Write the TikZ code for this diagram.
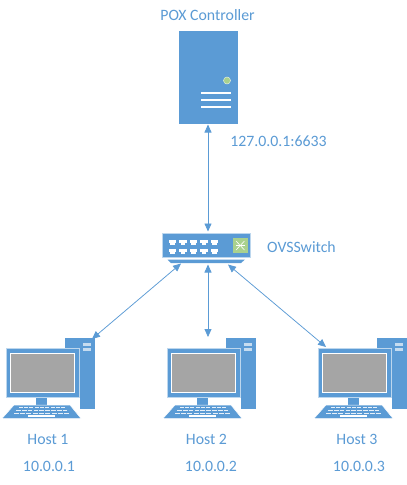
\documentclass[tikz,border=0pt]{standalone}
\usepackage{fontspec}
\setmainfont{Carlito}
\definecolor{blu}{HTML}{5B9BD5}
\definecolor{lblu}{HTML}{BDD7EE}
\definecolor{grn}{HTML}{A9D18E}
\definecolor{gry}{HTML}{A5A5A5}
\usetikzlibrary{arrows.meta}
\tikzset{
 lab/.style={text=blu,font=\fontsize{15.8pt}{18pt}\selectfont,inner sep=0pt,anchor=center},
 link/.style={draw=blu,line width=0.75pt,{Triangle[length=8pt,width=7pt]}-{Triangle[length=8pt,width=7pt]}}
}
\newcommand{\hostpc}[2]{%
 \begin{scope}[shift={(#1,0)}]
  \fill[blu] (65,338) rectangle (95,409);
  \fill[white!65!blu] (83,343) rectangle (91,345.5);
  \fill[white!65!blu] (83,348) rectangle (91,350.5);
  \fill[white] (64,410) -- (64,396) -- (80,396) -- (80,410) -- cycle;
  \fill[blu] (36,397) rectangle (47,405);
  \fill[blu,draw=lblu,line width=0.8pt] (6,348) rectangle (79,397);
  \fill[gry,draw=white,line width=1pt] (10.5,353) rectangle (74,392);
  \fill[blu,draw=white,line width=0.5pt] (14,405) -- (70,405) -- (81,418.5) -- (2,418.5) -- cycle;
  \foreach \r/\y/\a/\b in {0/407.5/18/66,1/410.5/15.5/68,2/413.5/13/70}{
    \foreach \i in {0,...,8}{
      \fill[white!85!blu] ({\a+(\b-\a)*\i/9+0.6},\y-0.9) rectangle ({\a+(\b-\a)*(\i+1)/9-0.6},\y+0.9);
    }
  }
  \fill[white] (28,414.8) rectangle (55,416.8);
  \coordinate (#2) at (80,370);
 \end{scope}
}
\begin{document}
\begin{tikzpicture}[x=1pt,y=-1pt,line cap=butt]
\useasboundingbox (0,0) rectangle (407,485);
\fill[white] (0,0) rectangle (407,485);
% server
\node[fill=blu,inner sep=0pt,minimum width=59pt,minimum height=93pt] (server) at (208.5,77.5) {};
\fill[grn,draw=white!70!grn,line width=0.5pt] (227,80.5) circle (3.5);
\foreach \y in {93,100,107}{\fill[white] (201,\y-1) rectangle (230.5,\y+1);}
% switch
\node[fill=blu,draw=lblu,line width=0.5pt,inner sep=0pt,minimum width=88pt,minimum height=24pt] (switch) at (206,245) {};
\fill[blu] (167.5,259.5) -- (245,259.5) -- (241,263) -- (171,263) -- cycle;
\foreach \x in {0,...,4}{\foreach \y in {240,248.5}{
 \fill[white] (168.5+10.5*\x,\y) rectangle (176+10.5*\x,\y+3);
 \fill[white] (170+10.5*\x,\y+3) rectangle (174.5+10.5*\x,\y+5);
}}
\fill[grn] (233,238) rectangle (247.5,253);
\draw[white,line width=0.6pt] (236,241) -- (244.5,250) (236,250) -- (244.5,241);
\draw[white,line width=0.6pt] (236,245.5) -- (244.5,245.5);
% hosts
\hostpc{0}{h1}
\hostpc{161}{h2}
\hostpc{312}{h3}
% connection points
\coordinate (s1) at (181,263.5);
\coordinate (s2) at (208,264.5);
\coordinate (s3) at (228,264.5);
\coordinate (t1) at (92,339);
\coordinate (t2) at (208,337);
\coordinate (t3) at (326,347);
\coordinate (sv) at (208,124.5);
\coordinate (sw) at (208,231.5);
\draw[link] (sv) -- (sw);
\draw[link] (s1) -- (t1);
\draw[link] (s2) -- (t2);
\draw[link] (s3) -- (t3);
% labels
\node[lab] (l0) at (207.5,15) {POX Controller};
\node[lab] (l1) at (278.5,141) {127.0.0.1:6633};
\node[lab] (l2) at (301.5,247.5) {OVSSwitch};
\node[lab] (l3) at (48,439) {Host 1};
\node[lab] (l4) at (206.5,439) {Host 2};
\node[lab] (l5) at (357,439) {Host 3};
\node[lab] (l6) at (49,466) {10.0.0.1};
\node[lab] (l7) at (211,466) {10.0.0.2};
\node[lab] (l8) at (359,466) {10.0.0.3};
\end{tikzpicture}
\end{document}
